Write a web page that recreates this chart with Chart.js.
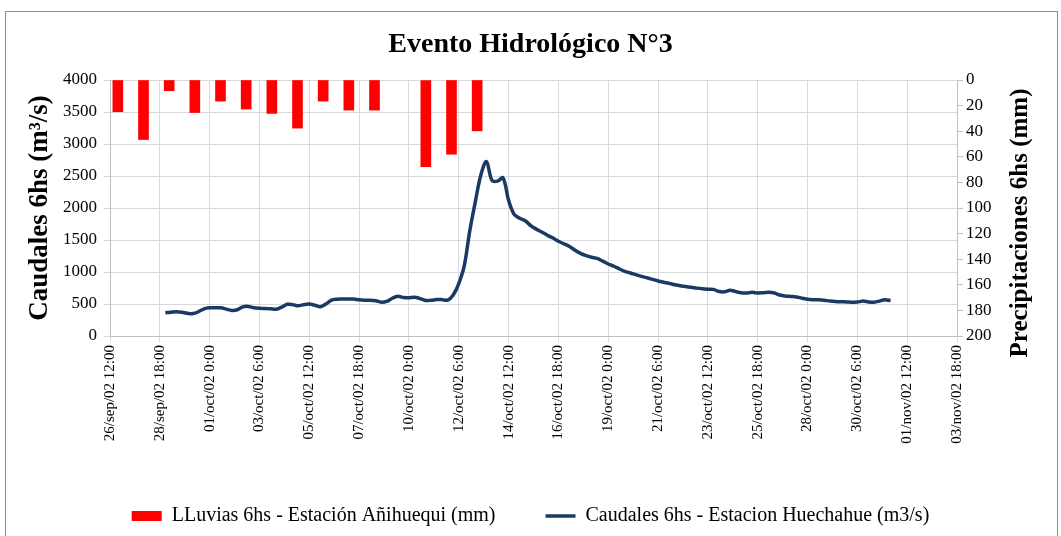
<!DOCTYPE html>
<html>
<head>
<meta charset="utf-8">
<script src="https://cdn.jsdelivr.net/npm/chart.js@4"></script>
<style>
  body { margin: 0; background: #fff; overflow: hidden; }
  #frame { position: absolute; left: 5px; top: 11px; width: 1051px; height: 600px; border: 1px solid #8c8c8c; }
  #wrap { position: absolute; left: 0; top: 0; width: 1061px; height: 536px; }
</style>
</head>
<body>
<div id="frame"></div>
<div id="wrap"><canvas id="myChart"></canvas></div>
<script>
// x axis tick labels, one every 9 steps of 6 hours
const xLabels = ["26/sep/02 12:00","28/sep/02 18:00","01/oct/02 0:00","03/oct/02 6:00","05/oct/02 12:00",
  "07/oct/02 18:00","10/oct/02 0:00","12/oct/02 6:00","14/oct/02 12:00","16/oct/02 18:00","19/oct/02 0:00",
  "21/oct/02 6:00","23/oct/02 12:00","25/oct/02 18:00","28/oct/02 0:00","30/oct/02 6:00","01/nov/02 12:00",
  "03/nov/02 18:00"]

// caudales (m3/s), one value per 6h step, starting at step 10
const flowStart = 10
const flow = [362,372,380,372,355,350,380,425,440,440,440,420,400,410,455,462,440,432,430,425,
  418,450,495,490,472,490,500,480,458,500,560,575,578,580,578,565,560,560,550,528,
  540,590,620,600,598,605,585,556,558,570,568,560,640,820,1100,1650,2100,2520,2725,2430,
  2420,2470,2120,1900,1840,1800,1725,1670,1625,1575,1530,1480,1440,1400,1340,1290,1255,1230,1212,1170,
  1125,1090,1050,1010,985,958,932,910,885,860,840,822,800,785,772,762,748,738,732,728,
  695,690,715,695,675,672,682,672,675,682,672,640,625,618,610,590,575,568,565,558,
  548,540,535,532,528,530,545,532,528,545,568,550]

// lluvias (mm), secondary category axis
const rainSlots = Array.from({length: 33}, (_, i) => String(i + 1))
const rain = [24.8, 46.5, 8.4, 25.4, 16.5, 22.7, 26.1, 37.6, 16.5, 23.5, 23.5, null, 67.7, 58, 39.7]

const serif = '"Liberation Serif", "Times New Roman", serif'
const flowPoints = flow.map((v, i) => ({x: flowStart + i, y: v}))
const rightTitle = 'Precipitaciones 6hs (mm)'

// right axis title reads bottom to top, like the left one
const rightTitlePlugin = {
  id: 'rightTitle',
  afterDraw(chart) {
    const c = chart.ctx
    c.save()
    c.translate(1021, 223)
    c.rotate(-Math.PI / 2)
    c.font = 'bold 25px ' + serif
    c.fillStyle = '#000'
    c.textAlign = 'center'
    c.textBaseline = 'middle'
    c.fillText(rightTitle, 0, 0)
    c.restore()
  }
}

let ctx = document.getElementById('myChart')
new Chart(ctx, {
  type: 'line',
  data: {
    labels: rainSlots,
    datasets: [{
      type: 'bar',
      label: 'LLuvias 6hs - Estación Añihuequi (mm)',
      data: rain,
      xAxisID: 'x2',
      yAxisID: 'y2',
      backgroundColor: '#ff0000',
      borderWidth: 0,
      barThickness: 10,
      pointStyle: 'rect'
    }, {
      type: 'line',
      label: 'Caudales 6hs - Estacion Huechahue (m3/s)',
      data: flowPoints,
      xAxisID: 'x',
      yAxisID: 'y',
      borderColor: '#1b3a63',
      backgroundColor: '#1b3a63',
      borderWidth: 3.5,
      pointRadius: 0,
      tension: 0.35,
      pointStyle: 'line'
    }]
  },
  plugins: [rightTitlePlugin],
  options: {
    responsive: true,
    maintainAspectRatio: false,
    animation: false,
    layout: { padding: { left: 0, right: 0, top: 0, bottom: 0 } },
    plugins: {
      title: {
        display: true,
        text: 'Evento Hidrológico N°3',
        color: '#000',
        font: { family: serif, size: 28, weight: 'bold' },
        padding: { top: 28, bottom: 18.4 }
      },
      legend: {
        position: 'bottom',
        labels: {
          color: '#000',
          font: { family: serif, size: 20 },
          usePointStyle: true,
          pointStyleWidth: 30,
          boxWidth: 30,
          boxHeight: 10,
          padding: 50
        }
      },
      tooltip: { enabled: false }
    },
    scales: {
      x: {
        type: 'linear',
        min: 0,
        max: 153,
        offset: false,
        grid: { color: '#d9d9d9', tickLength: 6 },
        border: { color: '#bfbfbf' },
        ticks: {
          stepSize: 9,
          autoSkip: false,
          minRotation: 90,
          maxRotation: 90,
          padding: 3,
          color: '#000',
          font: { family: serif, size: 15 },
          callback: (v) => xLabels[Math.round(v / 9)]
        },
        afterFit: (s) => { s.height = 120 }
      },
      x2: {
        type: 'category',
        display: false,
        offset: true
      },
      y: {
        position: 'left',
        min: 0,
        max: 4000,
        grid: { color: '#d9d9d9', tickLength: 6 },
        border: { color: '#bfbfbf' },
        ticks: { stepSize: 500, autoSkip: false, color: '#000', font: { family: serif, size: 17 }, padding: 7,
          callback: (v) => String(v) },
        title: {
          display: true,
          text: 'Caudales 6hs (m³/s)',
          color: '#000',
          font: { family: serif, size: 27, weight: 'bold' },
          padding: { top: 24, bottom: 0 }
        },
        afterFit: (s) => { s.width = 110 }
      },
      y2: {
        position: 'right',
        reverse: true,
        min: 0,
        max: 200,
        grid: { drawOnChartArea: false, tickLength: 6, color: '#bfbfbf' },
        border: { color: '#bfbfbf' },
        ticks: { stepSize: 20, autoSkip: false, color: '#000', font: { family: serif, size: 17 }, padding: 3,
          callback: (v) => String(v) },
        afterFit: (s) => { s.width = 104 }
      }
    }
  }
})
</script>
</body>
</html>
